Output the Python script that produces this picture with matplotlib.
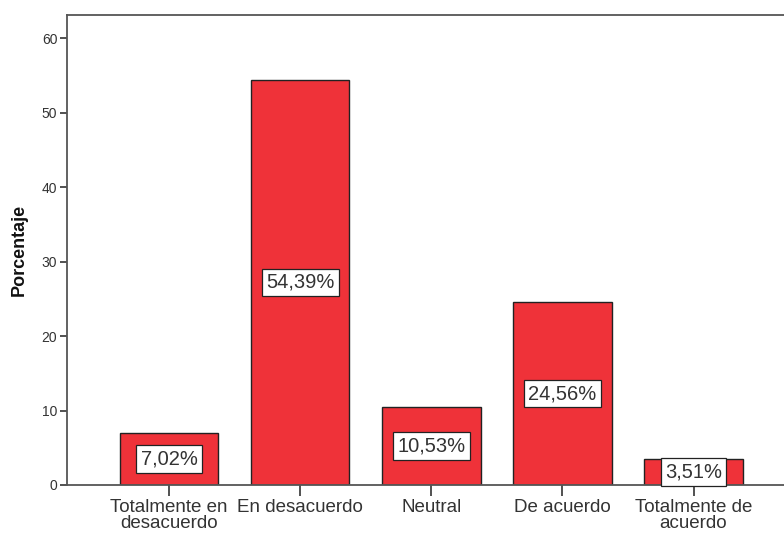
import matplotlib
matplotlib.use("Agg")
import matplotlib.pyplot as plt

categorias = ["Totalmente en\ndesacuerdo", "En desacuerdo", "Neutral",
              "De acuerdo", "Totalmente de\nacuerdo"]
porcentajes = [7.02, 54.39, 10.53, 24.56, 3.51]
etiquetas = ["7,02%", "54,39%", "10,53%", "24,56%", "3,51%"]
yticks = [0, 10, 20, 30, 40, 50, 60]

plt.rcParams["font.family"] = ["Liberation Sans", "DejaVu Sans"]

fig = plt.figure(figsize=(7.84, 5.34), dpi=100)
ax = fig.add_axes([67 / 784, 49 / 534, 1 - 67 / 784, (485 - 15) / 534])

x = range(len(categorias))
ax.bar(x, porcentajes, width=0.75, color="#ef3239", edgecolor="#222222",
       linewidth=1.0, zorder=2)

for xi, v, lab in zip(x, porcentajes, etiquetas):
    ax.text(xi, v / 2, lab, ha="center", va="center", fontsize=14.5,
            color="#333333", zorder=4,
            bbox=dict(boxstyle="square,pad=0.22", facecolor="white",
                      edgecolor="#222222", linewidth=0.9))

ax.set_xlim(-0.78, 4.69)
ax.set_ylim(0, 63.1)
ax.set_yticks(yticks)
ax.set_xticks(list(x))
ax.set_xticklabels(categorias, fontsize=13.5, linespacing=0.9, color="#333333")
ax.tick_params(axis="y", labelsize=10, length=5, width=1.2, color="#333333",
               pad=2, labelcolor="#333333")
ax.tick_params(axis="x", length=8, width=1.2, color="#333333", pad=2)
ax.set_ylabel("Porcentaje", fontsize=13, fontweight="bold", labelpad=10,
              color="#111111")

for side in ["left", "top", "bottom"]:
    ax.spines[side].set_color("#555555")
    ax.spines[side].set_linewidth(1.3)
ax.spines["right"].set_visible(False)

fig.savefig("out.png", dpi=100)
